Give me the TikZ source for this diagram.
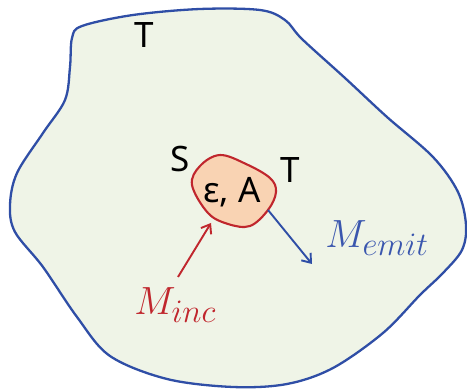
\documentclass[tikz,border=0pt]{standalone}
\usepackage{fontspec}
\setmainfont{Noto Sans}
\usetikzlibrary{arrows.meta}
\definecolor{bgfill}{HTML}{EFF4E7}
\definecolor{bluel}{HTML}{2F4EA6}
\definecolor{redl}{HTML}{C0262D}
\definecolor{orfill}{HTML}{F9D3B3}
\definecolor{mblue}{HTML}{3A56AE}
\begin{document}
\begin{tikzpicture}[x=1pt,y=-1pt,
  lbl/.style={font=\fontsize{35}{37}\selectfont, inner sep=0pt, anchor=base},
  mth/.style={font=\Huge, scale=1.58, inner sep=0pt, anchor=base west},
  arr/.style={line width=1.9pt, -{Straight Barb[length=8pt,width=12pt,line width=1.9pt]}}]
\useasboundingbox (0,0) rectangle (467,390);
% outer region
\draw[bluel, line width=2.3pt, fill=bgfill] plot[smooth cycle, tension=0.55] coordinates {
 (72,38) (82,26) (133,15) (200,9) (260,10) (285,20) (302,39)
 (345,78) (387,117) (433,157) (458,192) (466,225) (462,250)
 (443,273) (420,295) (383,333) (333,368) (287,384) (233,387)
 (167,379) (110,356) (77,317) (43,267) (15,232) (10,205)
 (17,173) (43,133) (65,100) (70,67)};
% inner region
\draw[redl, line width=2.1pt, fill=orfill] plot[smooth cycle, tension=0.6] coordinates {
 (220,155) (246,164) (270,178) (276,192) (268,210) (250,226)
 (228,224) (208,213) (192,185) (200,166)};
\node[lbl] (ea) at (232,203) {ε, A};
\node[lbl] (s) at (180,172) {S};
\node[lbl] (t1) at (290,183) {T};
\node[lbl] (t2) at (144,48) {T};
\node[mth, text=mblue] (memit) at (325,248) {$M_{emit}$};
\node[mth, text=redl] (minc) at (134,315) {$M_{inc}$};
\coordinate (ia) at (178,277);
\coordinate (ib) at (211,223);
\coordinate (ea1) at (268,210);
\coordinate (ea2) at (312,264);
\draw[arr, redl] (ia) -- (ib);
\draw[arr, bluel] (ea1) -- (ea2);
\end{tikzpicture}
\end{document}
